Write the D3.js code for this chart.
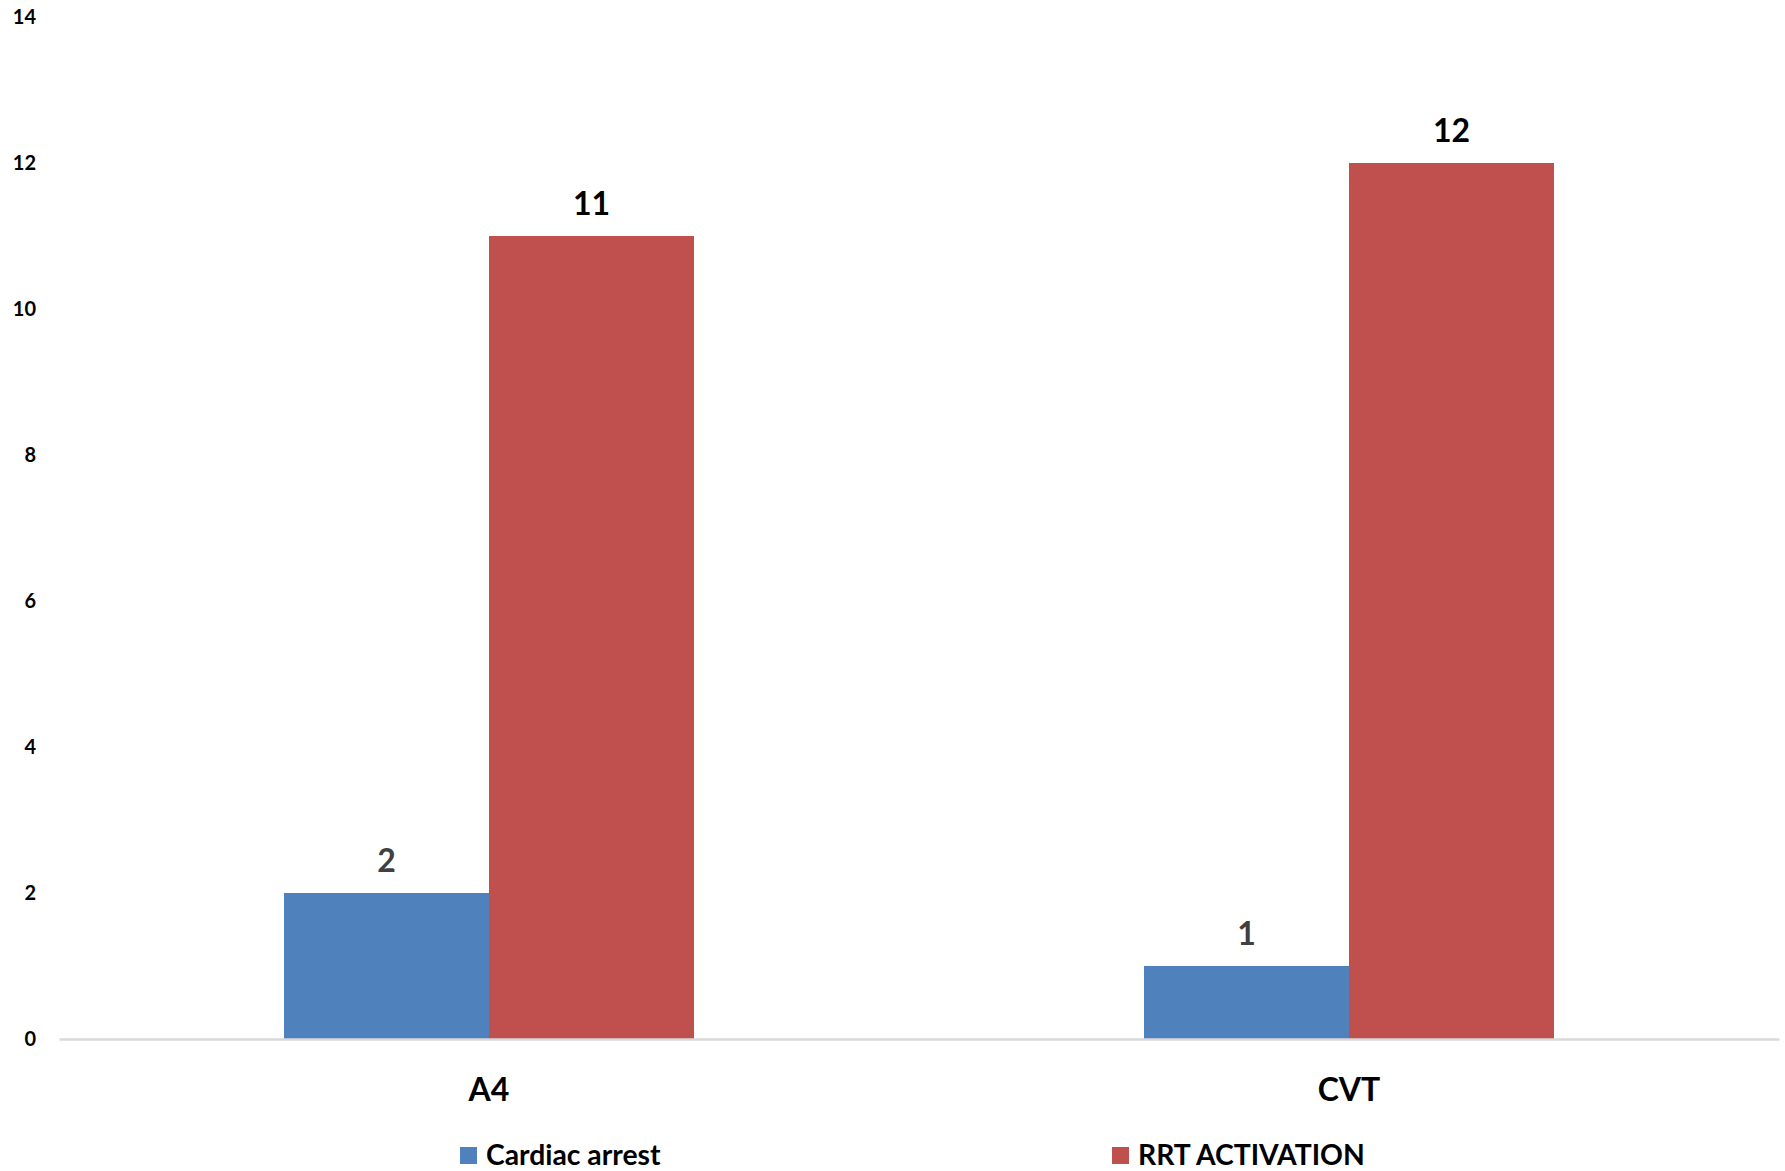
<!DOCTYPE html>
<html><head><meta charset="utf-8">
<script src="https://cdn.jsdelivr.net/npm/d3@7"></script>
<style>body{margin:0;background:#fff;} svg{display:block;font-family:Lato,"Open Sans",sans-serif;}</style>
</head><body>
<svg id="c" width="1785" height="1171"></svg>
<script>
const categories = ["A4", "CVT"];
const seriesNames = ["Cardiac arrest", "RRT ACTIVATION"];
const cardiacArrest = [2, 1];
const rrtActivation = [11, 12];
const yTicks = [0, 2, 4, 6, 8, 10, 12, 14];
const colors = ["#4F81BD", "#C0504D"];
const labelColors = ["#404040", "#000000"];

(function () {
const svg = d3.select("#c");
const mLeft = 59, mRight = 1779, mTop = 17, mBottom = 1039;
const x0 = d3.scaleBand().domain(categories).range([mLeft, mRight]).paddingInner(0).paddingOuter(0);
const x1 = d3.scaleBand().domain(seriesNames).range([0, 410]);
const y = d3.scaleLinear().domain([0, 14]).range([mBottom, mTop]);
const values = [cardiacArrest, rrtActivation];

// y axis labels
const ya = svg.append("g").attr("transform", `translate(${mLeft},0)`)
  .call(d3.axisLeft(y).tickValues(yTicks).tickSize(0).tickPadding(23));
ya.select(".domain").remove();
ya.selectAll("text").attr("font-size", 20).attr("font-weight", 700).attr("fill", "#000").attr("font-family", "Lato");

// bars
categories.forEach((c, ci) => {
  const gx = x0(c) + x0.bandwidth() / 2 - 205;
  seriesNames.forEach((s, si) => {
    const v = values[si][ci];
    svg.append("rect")
      .attr("x", gx + x1(s)).attr("y", y(v))
      .attr("width", x1.bandwidth()).attr("height", y(0) - y(v))
      .attr("fill", colors[si]);
    svg.append("text")
      .attr("x", gx + x1(s) + x1.bandwidth() / 2).attr("y", y(v) - 21)
      .attr("text-anchor", "middle").attr("font-size", 32).attr("font-weight", 700)
      .attr("fill", labelColors[si]).text(v);
  });
});

// x axis
const xa = svg.append("g").attr("transform", `translate(0,${mBottom})`)
  .call(d3.axisBottom(x0).tickSize(0).tickPadding(39));
xa.select(".domain").attr("stroke", "#D9D9D9").attr("stroke-width", 2.5);
xa.selectAll("text").attr("font-size", 32).attr("font-weight", 700).attr("fill", "#000").attr("font-family", "Lato");

// legend
const legX = [460, 1112];
seriesNames.forEach((s, i) => {
  svg.append("rect").attr("x", legX[i]).attr("y", 1147).attr("width", 17).attr("height", 17).attr("fill", colors[i]);
  svg.append("text").attr("x", legX[i] + 26).attr("y", 1165).attr("font-size", 28.3).attr("font-weight", 700)
    .attr("fill", "#000").text(s);
});
})();
</script>
</body></html>
